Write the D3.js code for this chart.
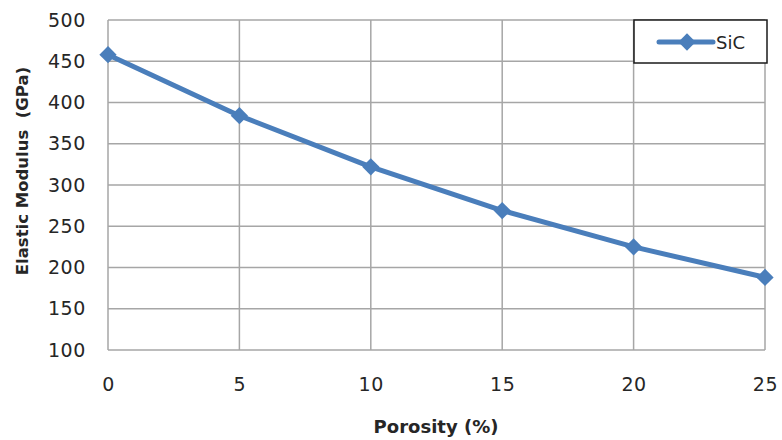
<!DOCTYPE html>
<html><head><meta charset="utf-8">
<script src="https://cdn.jsdelivr.net/npm/d3@7"></script>
<style>body{margin:0;background:#fff;} svg{display:block;font-family:"DejaVu Sans",Verdana,sans-serif;}</style>
</head><body>
<svg id="c" width="782" height="440"></svg>
<script>
const porosity = [0, 5, 10, 15, 20, 25];
const modulus = [458, 384, 322, 269, 225, 188];
const seriesName = "SiC";
const xTicks = [0, 5, 10, 15, 20, 25];
const yTicks = [100, 150, 200, 250, 300, 350, 400, 450, 500];
const xTitle = "Porosity (%)";
const yTitle = "Elastic Modulus  (GPa)";

const svg = d3.select("#c");
const L = 108, R = 765, T = 20, B = 350;
const x = d3.scaleLinear().domain([0, 25]).range([L, R]);
const y = d3.scaleLinear().domain([100, 500]).range([B, T]);
const grid = "#a6a6a6";

// gridlines
svg.append("g").selectAll("line").data(yTicks).join("line")
  .attr("x1", L).attr("x2", R).attr("y1", d => y(d)).attr("y2", d => y(d))
  .attr("stroke", grid).attr("stroke-width", 1.5);
svg.append("g").selectAll("line").data(xTicks).join("line")
  .attr("y1", T).attr("y2", B).attr("x1", d => x(d)).attr("x2", d => x(d))
  .attr("stroke", grid).attr("stroke-width", 1.5);

// axes via d3 axis, styled
const yAxis = svg.append("g").attr("transform", `translate(${L},0)`)
  .call(d3.axisLeft(y).tickValues(yTicks).tickSize(0).tickPadding(22));
const xAxis = svg.append("g").attr("transform", `translate(0,${B})`)
  .call(d3.axisBottom(x).tickValues(xTicks).tickSize(0).tickPadding(28));
[yAxis, xAxis].forEach(a => {
  a.select(".domain").remove();
  a.selectAll("text").attr("font-size", 19).attr("letter-spacing", 0.6).attr("fill", "#262626")
    .attr("font-family", "'DejaVu Sans',Verdana,sans-serif");
});

// line
const blue = "#4a7ebb";
const pts = porosity.map((p, i) => [p, modulus[i]]);
svg.append("path").datum(pts)
  .attr("d", d3.line().x(d => x(d[0])).y(d => y(d[1])))
  .attr("fill", "none").attr("stroke", blue).attr("stroke-width", 5)
  .attr("stroke-linejoin", "round");
const diamond = d3.symbol().type(d3.symbolDiamond2).size(190);
svg.append("g").selectAll("path").data(pts).join("path")
  .attr("transform", d => `translate(${x(d[0])},${y(d[1])})`)
  .attr("d", diamond).attr("fill", blue);

// titles
svg.append("text").attr("x", 436).attr("y", 433).attr("text-anchor", "middle")
  .attr("font-size", 18).attr("font-weight", "bold").attr("fill", "#262626").text(xTitle);
svg.append("text").attr("transform", "translate(28,171) rotate(-90)").attr("text-anchor", "middle")
  .attr("font-size", 16.5).attr("font-weight", "bold").attr("fill", "#262626")
  .attr("xml:space", "preserve").style("white-space", "pre").text(yTitle);

// legend
const lg = svg.append("g");
lg.append("rect").attr("x", 634).attr("y", 20).attr("width", 133).attr("height", 43)
  .attr("fill", "#fff").attr("stroke", "#1a1a1a").attr("stroke-width", 1.5);
lg.append("line").attr("x1", 659).attr("x2", 713).attr("y1", 42).attr("y2", 42)
  .attr("stroke", blue).attr("stroke-width", 5).attr("stroke-linecap", "round");
lg.append("path").attr("transform", "translate(687,42)").attr("d", diamond).attr("fill", blue);
lg.append("text").attr("x", 716).attr("y", 48.5).attr("font-size", 18).attr("fill", "#262626").text(seriesName);
</script>
</body></html>
